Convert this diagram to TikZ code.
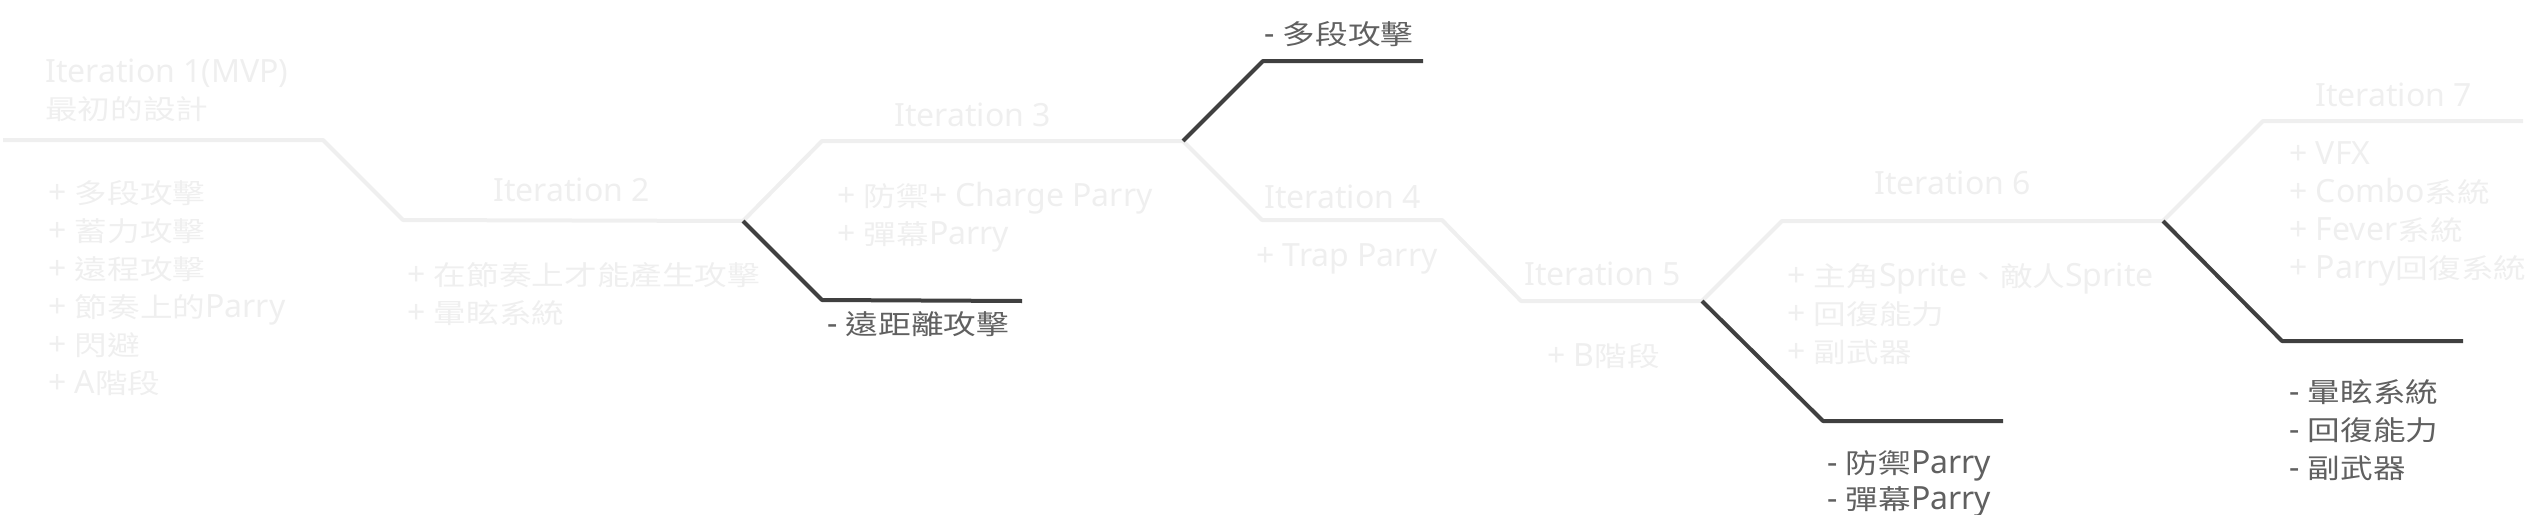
\documentclass[tikz,border=0pt]{standalone}
\usepackage{fontspec}
\usepackage{xcolor}
\usepackage{tikz}
\usetikzlibrary{positioning, calc}

\setmainfont{Noto Sans}
\newfontfamily\zhfont[Scale=0.85,FakeStretch=1.2]{Noto Sans CJK TC}
\newcommand{\zh}[1]{{\zhfont #1}}

\definecolor{faint}{HTML}{EFEFEF}
\definecolor{cutline}{HTML}{404040}
\definecolor{cuttext}{HTML}{606060}

\begin{document}
\begin{tikzpicture}[
  x=1pt, y=-1pt,
  track/.style={draw=faint, line width=4pt, line join=round},
  cut/.style={draw=cutline, line width=4pt, line join=round},
  itlabel/.style={
    anchor=base west, inner sep=0pt, text=faint,
    font=\fontsize{32}{38}\selectfont
  },
  %% multi-line blocks: base anchor sits on the LAST line
  addlist/.style={
    anchor=base west, inner sep=0pt, text=faint, align=left,
    font=\fontsize{32}{38}\selectfont
  },
  droplist/.style={
    anchor=base west, inner sep=0pt, text=cuttext, align=left,
    font=\fontsize{32}{38}\selectfont
  }
]
\useasboundingbox (0,0) rectangle (2526,514);

%% Main timeline vertices
\coordinate (s0) at (3,140);
\coordinate (a1) at (323,140);
\coordinate (a2) at (403,220);
\coordinate (b1) at (743,221);
\coordinate (b2) at (822,141);
\coordinate (c1) at (1183,141);
\coordinate (c2) at (1262,220);
\coordinate (d1) at (1442,220);
\coordinate (d2) at (1521,301);
\coordinate (e1) at (1702,301);
\coordinate (e2) at (1782,221);
\coordinate (f1) at (2163,221);
\coordinate (f2) at (2263,121);
\coordinate (g1) at (2523,121);

\draw[track] (s0) -- (a1) -- (a2) -- (b1) -- (b2) -- (c1) -- (c2)
  -- (d1) -- (d2) -- (e1) -- (e2) -- (f1) -- (f2) -- (g1);

%% Removed branches
\coordinate (rb1) at (822,300);
\coordinate (rb2) at (1022,301);
\coordinate (rc1) at (1263,61);
\coordinate (rc2) at (1423,61);
\coordinate (re1) at (1823,421);
\coordinate (re2) at (2003,421);
\coordinate (rf1) at (2282,341);
\coordinate (rf2) at (2463,341);

\draw[cut] (b1) -- (rb1) -- (rb2);
\draw[cut] (c1) -- (rc1) -- (rc2);
\draw[cut] (e1) -- (re1) -- (re2);
\draw[cut] (f1) -- (rf1) -- (rf2);

%% Iteration 1
\node[addlist, font=\fontsize{32}{37}\selectfont] (it1) at (45,119) {Iteration 1(MVP)\\\zh{最初的設計}};
\node[addlist] (add1) at (48,393) {+ \zh{多段攻擊}\\+ \zh{蓄力攻擊}\\+ \zh{遠程攻擊}\\+ \zh{節奏上的}Parry\\+ \zh{閃避}\\+ A\zh{階段}};

%% Iteration 2
\node[itlabel] (it2) at (493,201) {Iteration 2};
\node[addlist] (add2) at (407,323) {+ \zh{在節奏上才能產生攻擊}\\+ \zh{暈眩系統}};
\node[droplist] (drop2) at (827,334) {- \zh{遠距離攻擊}};

%% Iteration 3
\node[itlabel] (it3) at (894,126) {Iteration 3};
\node[addlist] (add3) at (837,244) {+ \zh{防禦}+ Charge Parry\\+ \zh{彈幕}Parry};
\node[droplist] (drop3) at (1264,44) {- \zh{多段攻擊}};

%% Iteration 4
\node[itlabel] (it4) at (1264,208) {Iteration 4};
\node[addlist] (add4) at (1256,266) {+ Trap Parry};

%% Iteration 5
\node[itlabel] (it5) at (1524,285) {Iteration 5};
\node[addlist] (add5) at (1547,366) {+ B\zh{階段}};
\node[droplist, font=\fontsize{32}{36}\selectfont] (drop5) at (1827,509) {- \zh{防禦}Parry\\- \zh{彈幕}Parry};

%% Iteration 6
\node[itlabel] (it6) at (1874,194) {Iteration 6};
\node[addlist] (add6) at (1787,362) {+ \zh{主角}Sprite\zh{、敵人}Sprite\\+ \zh{回復能力}\\+ \zh{副武器}};

%% Iteration 7
\node[itlabel] (it7) at (2315,106) {Iteration 7};
\node[addlist] (add7) at (2289,278) {+ VFX\\+ Combo\zh{系統}\\+ Fever\zh{系統}\\+ Parry\zh{回復系統}};
\node[droplist] (drop7) at (2289,478) {- \zh{暈眩系統}\\- \zh{回復能力}\\- \zh{副武器}};

\end{tikzpicture}
\end{document}
